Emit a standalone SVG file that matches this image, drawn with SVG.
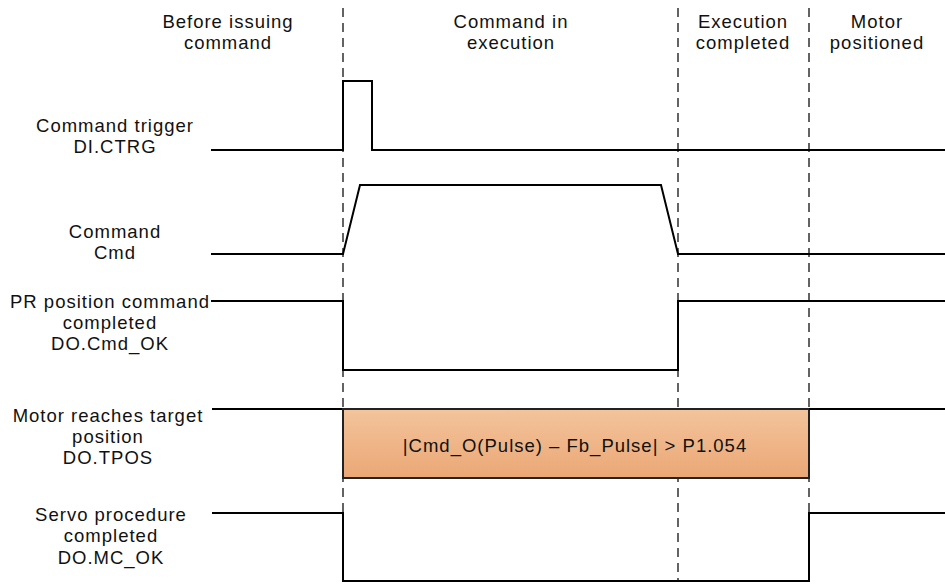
<svg xmlns="http://www.w3.org/2000/svg" width="945" height="585" viewBox="0 0 945 585">
<defs>
<linearGradient id="boxg" x1="0" y1="0" x2="0" y2="1">
<stop offset="0" stop-color="#f3c49c"/>
<stop offset="1" stop-color="#eba775"/>
</linearGradient>
<style>
text{font-family:"Liberation Sans",Arial,sans-serif;font-size:18.5px;fill:#111;text-anchor:middle;letter-spacing:1px}
.sig{fill:none;stroke:#000;stroke-width:2;stroke-linejoin:miter}
.dash{fill:none;stroke:#222;stroke-width:1.4;stroke-dasharray:9,6}
</style>
</defs>
<rect width="945" height="585" fill="#fff"/>
<g id="phase-labels">
<text x="228" y="28">Before issuing</text>
<text x="228" y="49">command</text>
<text x="511" y="28">Command in</text>
<text x="511" y="49">execution</text>
<text x="743" y="28">Execution</text>
<text x="743" y="49">completed</text>
<text x="877" y="28">Motor</text>
<text x="877" y="49">positioned</text>
</g>
<g id="dividers">
<line class="dash" x1="343" y1="8" x2="343" y2="582"/>
<line class="dash" x1="678" y1="8" x2="678" y2="582"/>
<line class="dash" x1="809" y1="8" x2="809" y2="582"/>
</g>
<g id="ctrg">
<text x="115" y="132">Command trigger</text>
<text x="115" y="153">DI.CTRG</text>
<polyline class="sig" points="211,150 343,150 343,81 372,81 372,150 945,150"/>
</g>
<g id="cmd">
<text x="115" y="238">Command</text>
<text x="115" y="259">Cmd</text>
<polyline class="sig" points="211,254 343,254 360,185 661,185 678,254 945,254"/>
</g>
<g id="cmd-ok">
<text x="110" y="308">PR position command</text>
<text x="110" y="329">completed</text>
<text x="110" y="350">DO.Cmd_OK</text>
<polyline class="sig" points="211,301 343,301 343,370 678,370 678,301 945,301"/>
</g>
<g id="tpos">
<text x="108" y="422">Motor reaches target</text>
<text x="108" y="443">position</text>
<text x="108" y="464">DO.TPOS</text>
<line class="sig" x1="212" y1="409" x2="343" y2="409"/>
<rect x="343" y="409" width="466" height="69" fill="url(#boxg)" stroke="#222" stroke-width="2"/>
<line class="sig" x1="809" y1="409" x2="945" y2="409"/>
<text x="575" y="452">|Cmd_O(Pulse) – Fb_Pulse| &gt; P1.054</text>
</g>
<g id="mc-ok">
<text x="111" y="521">Servo procedure</text>
<text x="111" y="542">completed</text>
<text x="111" y="564">DO.MC_OK</text>
<polyline class="sig" points="212,513 343,513 343,581 809,581 809,513 945,513"/>
</g>
<g id="connectors"></g>
</svg>
